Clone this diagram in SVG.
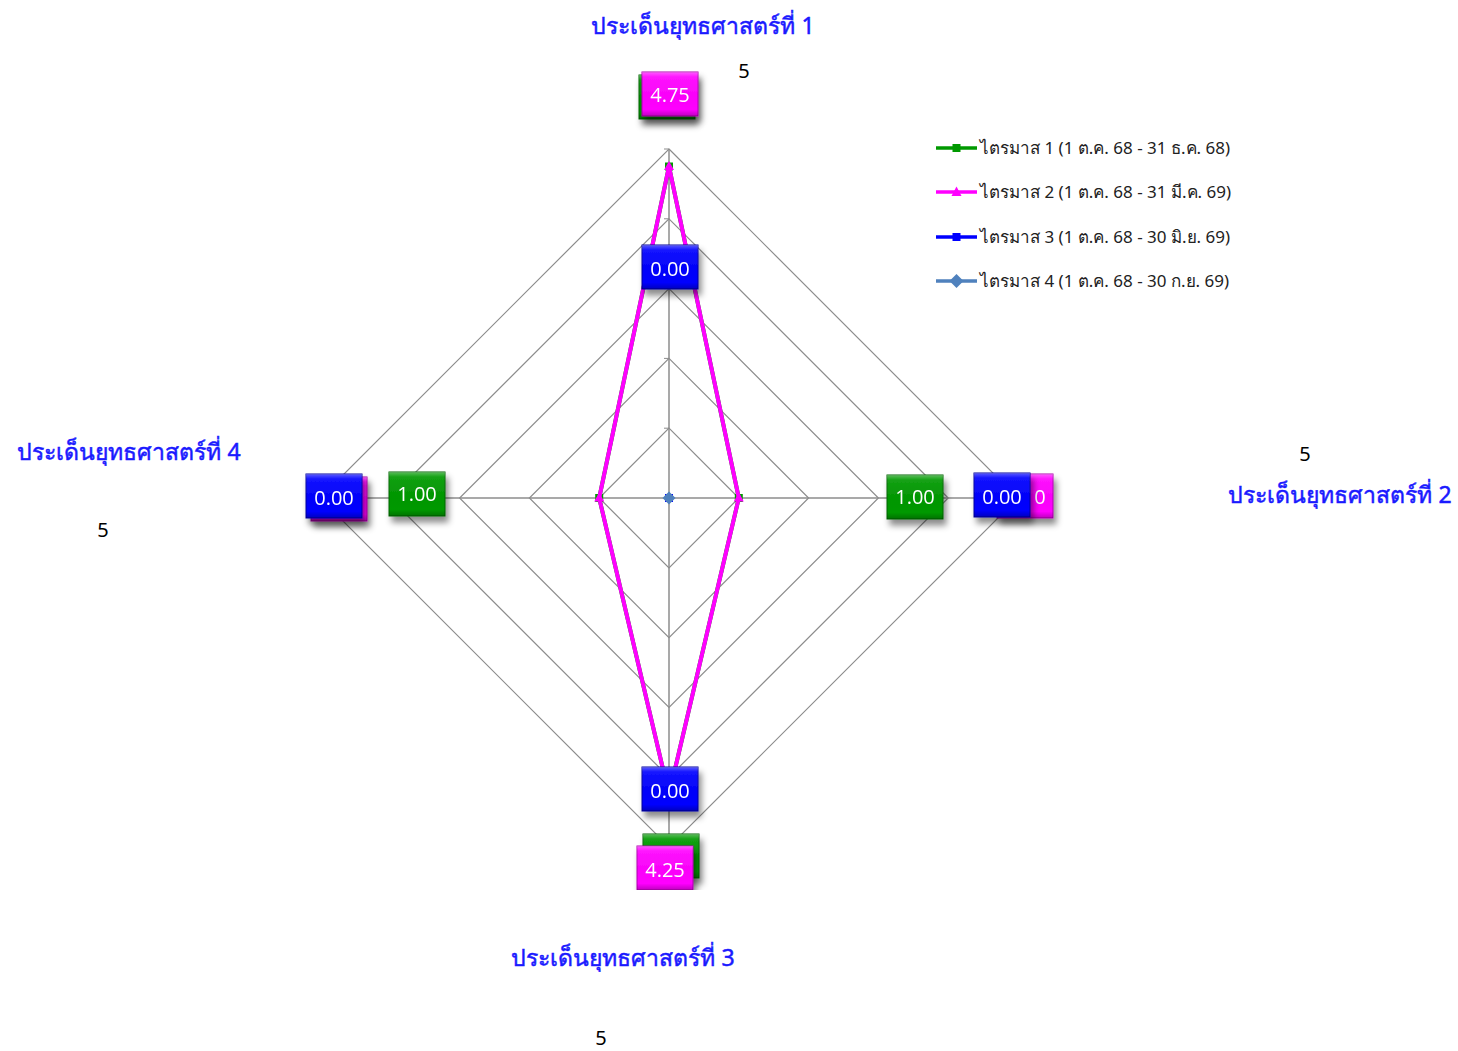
<svg xmlns="http://www.w3.org/2000/svg" width="1458" height="1051" viewBox="0 0 1458 1051">
<style>
.grid{fill:none;stroke:#8c8c8c;stroke-width:1.2}
.axis{stroke:#8c8c8c;stroke-width:1.5}
.cat{font-family:"Noto Sans","DejaVu Sans",Tahoma,sans-serif;font-size:23px;fill:#1a1aff;stroke:#1a1aff;stroke-width:0.5;text-anchor:middle}
.five{font-family:"Noto Sans","DejaVu Sans",sans-serif;font-size:20px;fill:#000;text-anchor:middle}
.leg{font-family:"Noto Sans","DejaVu Sans",Tahoma,sans-serif;font-size:17px;fill:#222}
.val{font-family:"Open Sans","Noto Sans",sans-serif;font-size:20px;fill:#fff;text-anchor:middle}
.bg{stroke:#006600;stroke-width:1}
.bm{stroke:#b000b0;stroke-width:1}
.bb{stroke:#0000a0;stroke-width:1}
</style>
<defs>
<filter id="sh" x="-30%" y="-30%" width="170%" height="180%">
<feDropShadow dx="3" dy="6" stdDeviation="3" flood-color="#000" flood-opacity="0.45"/>
</filter>
<linearGradient id="gloss" x1="0" y1="0" x2="0" y2="1">
<stop offset="0" stop-color="#fff" stop-opacity="0.35"/>
<stop offset="0.12" stop-color="#fff" stop-opacity="0.08"/>
<stop offset="0.85" stop-color="#000" stop-opacity="0"/>
<stop offset="1" stop-color="#000" stop-opacity="0.25"/>
</linearGradient>
<clipPath id="plot"><rect x="0" y="0" width="1458" height="890"/></clipPath>
</defs>

<g id="grid">
<polygon class="grid" points="669,428.2 738.8,498 669,567.8 599.2,498"/>
<polygon class="grid" points="669,358.4 808.6,498 669,637.6 529.4,498"/>
<polygon class="grid" points="669,288.6 878.4,498 669,707.4 459.6,498"/>
<polygon class="grid" points="669,218.8 948.2,498 669,777.2 389.8,498"/>
<polygon class="grid" points="669,149 1018,498 669,847 320,498"/>
<line class="axis" x1="669" y1="149" x2="669" y2="847"/>
<line class="axis" x1="320" y1="498" x2="1018" y2="498"/>
<g stroke="#8c8c8c" stroke-width="1">
<line x1="664" y1="149" x2="669" y2="149"/>
<line x1="664" y1="218.8" x2="669" y2="218.8"/>
<line x1="664" y1="288.6" x2="669" y2="288.6"/>
<line x1="664" y1="358.4" x2="669" y2="358.4"/>
<line x1="664" y1="428.2" x2="669" y2="428.2"/>
</g>
</g>

<g id="connectors">
<polygon id="series1" points="669,166.5 738.8,498 669,794.6 599.2,498" fill="none" stroke="#009900" stroke-width="4" stroke-linejoin="round"/>
<g fill="#009900">
<rect x="665" y="162.5" width="8" height="8"/>
<rect x="734.8" y="494" width="8" height="8"/>
<rect x="595.2" y="494" width="8" height="8"/>
</g>
<polygon id="series2" points="669,166.5 738.8,498 669,794.6 599.2,498" fill="none" stroke="#ff00ff" stroke-width="4" stroke-linejoin="round"/>
<g fill="#ff00ff">
<polygon points="669,161 674,170 664,170"/>
<polygon points="738.8,492.5 743.8,501.5 733.8,501.5"/>
<polygon points="599.2,492.5 604.2,501.5 594.2,501.5"/>
</g>
<rect id="series3" x="665" y="494" width="8" height="8" fill="#0000ff"/>
<polygon id="series4" points="669,491.5 675.5,498 669,504.5 662.5,498" fill="#4f81bd"/>
</g>

<g id="labels" clip-path="url(#plot)">
<g id="lab-s1" filter="url(#sh)">
<g><rect class="bg" x="639" y="75" width="56" height="44" fill="#009900"/><rect x="639" y="75" width="56" height="44" fill="url(#gloss)"/></g>
<g><rect class="bg" x="887" y="475" width="56" height="44" fill="#009900"/><rect x="887" y="475" width="56" height="44" fill="url(#gloss)"/><text class="val" x="915" y="504">1.00</text></g>
<g><rect class="bg" x="643" y="834" width="56" height="44" fill="#009900"/><rect x="643" y="834" width="56" height="44" fill="url(#gloss)"/></g>
<g><rect class="bg" x="389" y="472" width="56" height="44" fill="#009900"/><rect x="389" y="472" width="56" height="44" fill="url(#gloss)"/><text class="val" x="417" y="501">1.00</text></g>
</g>
<g id="lab-s2" filter="url(#sh)">
<g><rect class="bm" x="642" y="72" width="56" height="44" fill="#ff00ff"/><rect x="642" y="72" width="56" height="44" fill="url(#gloss)"/><text class="val" x="670" y="102">4.75</text></g>
<g><rect class="bm" x="997" y="474" width="56" height="44" fill="#ff00ff"/><rect x="997" y="474" width="56" height="44" fill="url(#gloss)"/><text class="val" x="1040" y="504">0</text></g>
<g><rect class="bm" x="637" y="846" width="56" height="44" fill="#ff00ff"/><rect x="637" y="846" width="56" height="44" fill="url(#gloss)"/><text class="val" x="665" y="877">4.25</text></g>
<g><rect class="bm" x="311" y="477" width="56" height="44" fill="#ff00ff"/><rect x="311" y="477" width="56" height="44" fill="url(#gloss)"/></g>
</g>
<g id="lab-s3" filter="url(#sh)">
<g><rect class="bb" x="642" y="245" width="56" height="44" fill="#0000ff"/><rect x="642" y="245" width="56" height="44" fill="url(#gloss)"/><text class="val" x="670" y="276">0.00</text></g>
<g><rect class="bb" x="974" y="473" width="56" height="44" fill="#0000ff"/><rect x="974" y="473" width="56" height="44" fill="url(#gloss)"/><text class="val" x="1002" y="504">0.00</text></g>
<g><rect class="bb" x="642" y="767" width="56" height="44" fill="#0000ff"/><rect x="642" y="767" width="56" height="44" fill="url(#gloss)"/><text class="val" x="670" y="798">0.00</text></g>
<g><rect class="bb" x="306" y="474" width="56" height="44" fill="#0000ff"/><rect x="306" y="474" width="56" height="44" fill="url(#gloss)"/><text class="val" x="334" y="505">0.00</text></g>
</g>
</g>

<g id="category-labels">
<text class="cat" x="703" y="34">ประเด็นยุทธศาสตร์ที่ 1</text>
<text class="five" x="744" y="78">5</text>
<text class="cat" x="1340" y="503">ประเด็นยุทธศาสตร์ที่ 2</text>
<text class="five" x="1305" y="461">5</text>
<text class="cat" x="623" y="966">ประเด็นยุทธศาสตร์ที่ 3</text>
<text class="five" x="601" y="1045">5</text>
<text class="cat" x="129" y="460">ประเด็นยุทธศาสตร์ที่ 4</text>
<text class="five" x="103" y="537">5</text>
</g>

<g id="legend">
<g id="leg1"><line x1="936" y1="148" x2="977" y2="148" stroke="#009900" stroke-width="3.5"/><rect x="952.5" y="144" width="8" height="8" fill="#009900"/><text class="leg" x="980" y="154">ไตรมาส 1 (1 ต.ค. 68 - 31 ธ.ค. 68)</text></g>
<g id="leg2"><line x1="936" y1="192" x2="977" y2="192" stroke="#ff00ff" stroke-width="3.5"/><polygon points="956.5,186.5 961.5,196 951.5,196" fill="#ff00ff"/><text class="leg" x="980" y="198">ไตรมาส 2 (1 ต.ค. 68 - 31 มี.ค. 69)</text></g>
<g id="leg3"><line x1="936" y1="237" x2="977" y2="237" stroke="#0000ff" stroke-width="3.5"/><rect x="952.5" y="233" width="8" height="8" fill="#0000ff"/><text class="leg" x="980" y="243">ไตรมาส 3 (1 ต.ค. 68 - 30 มิ.ย. 69)</text></g>
<g id="leg4"><line x1="936" y1="281" x2="977" y2="281" stroke="#4f81bd" stroke-width="3.5"/><polygon points="956.5,274 963.5,281 956.5,288 949.5,281" fill="#4f81bd"/><text class="leg" x="980" y="287">ไตรมาส 4 (1 ต.ค. 68 - 30 ก.ย. 69)</text></g>
</g>
</svg>
